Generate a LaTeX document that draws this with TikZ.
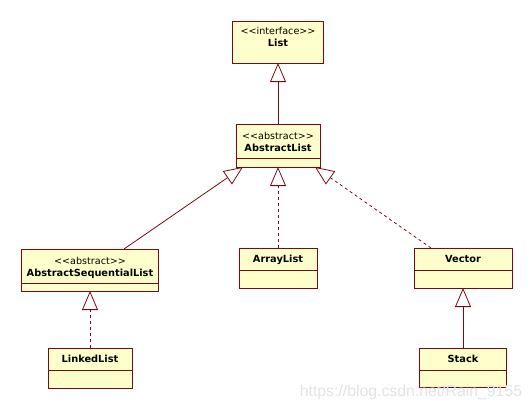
\documentclass[tikz,border=0pt]{standalone}
\usepackage{fontspec}
\setmainfont{DejaVu Sans}
\newfontfamily\wmfont{Liberation Sans}
\usetikzlibrary{arrows.meta}
\definecolor{umlfill}{RGB}{255,255,204}
\definecolor{umlline}{RGB}{120,10,20}
\begin{document}
\begin{tikzpicture}[x=1pt,y=-1pt,
 cls/.style={draw=umlline, fill=umlfill, line width=1pt, inner sep=0pt, outer sep=0pt, rectangle},
 stereo/.style={font=\fontsize{9.6}{11}\selectfont, inner sep=0pt, anchor=base},
 cname/.style={font=\fontsize{9.8}{11}\selectfont\bfseries, inner sep=0pt, anchor=base},
 sepline/.style={draw=umlline, line width=1pt},
 gen/.style={draw=umlline, line width=0.8pt, -{Triangle[open, length=19pt, width=16pt, line width=0.8pt]}},
 real/.style={gen, dash pattern=on 3pt off 3pt}]
\useasboundingbox (0,0) rectangle (532,410);
% class boxes
\node[cls, minimum width=91pt, minimum height=42pt] (list) at (278,42) {};
\node[cls, minimum width=84pt, minimum height=43pt] (al) at (278,145.5) {};
\node[cls, minimum width=137pt, minimum height=42pt] (asl) at (90,270) {};
\node[cls, minimum width=78pt, minimum height=40pt] (arraylist) at (278,268) {};
\node[cls, minimum width=98pt, minimum height=40pt] (vector) at (463,268) {};
\node[cls, minimum width=84pt, minimum height=40pt] (linkedlist) at (90,368) {};
\node[cls, minimum width=87pt, minimum height=39pt] (stack) at (463,367.5) {};
% separators
\draw[sepline] ([yshift=9pt]al.south west) -- ([yshift=9pt]al.south east);
\draw[sepline] ([yshift=8pt]asl.south west) -- ([yshift=8pt]asl.south east);
\draw[sepline] ([yshift=18pt]arraylist.south west) -- ([yshift=18pt]arraylist.south east);
\draw[sepline] ([yshift=18pt]vector.south west) -- ([yshift=18pt]vector.south east);
\draw[sepline] ([yshift=18pt]linkedlist.south west) -- ([yshift=18pt]linkedlist.south east);
\draw[sepline] ([yshift=17pt]stack.south west) -- ([yshift=17pt]stack.south east);
% texts
\node[stereo] (t1) at (278,34.5) {{<}{<}interface{>}{>}};
\node[cname] (n1) at (278,46.5) {List};
\node[stereo] (t2) at (278,139.5) {{<}{<}abstract{>}{>}};
\node[cname] (n2) at (278,151.5) {AbstractList};
\node[stereo] (t3) at (90,264.5) {{<}{<}abstract{>}{>}};
\node[cname] (n3) at (90,276.5) {AbstractSequentialList};
\node[cname] (n4) at (278,262.5) {ArrayList};
\node[cname] (n5) at (463,262.5) {Vector};
\node[cname] (n6) at (90,362.5) {LinkedList};
\node[cname] (n7) at (463,362.5) {Stack};
% connectors
\draw[gen] (al.north) -- (list.south);
\draw[gen] ([xshift=34pt]asl.north) -- ([xshift=-35pt]al.south);
\draw[real] (arraylist.north) -- (al.south);
\draw[real] ([xshift=-32pt]vector.north) -- ([xshift=37pt]al.south);
\draw[real] (linkedlist.north) -- (asl.south);
\draw[gen] (stack.north) -- (vector.south);
% watermark
\node[font=\wmfont\fontsize{15.8}{18}\selectfont, text=gray!22, inner sep=0pt] (wm) at (411,392) {https://blog.csdn.net/Rain\_9155};
\end{tikzpicture}
\end{document}
